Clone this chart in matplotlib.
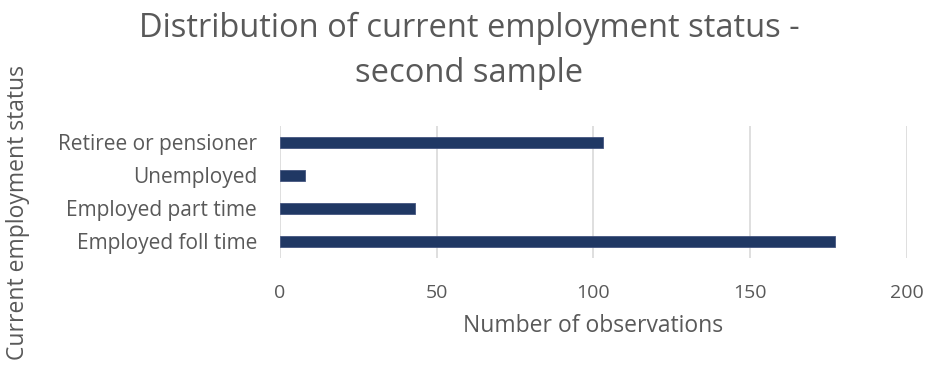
import matplotlib.pyplot as plt
import numpy as np

plt.rcParams['font.family'] = ['Open Sans', 'DejaVu Sans']

statuses = ["Employed foll time", "Employed part time", "Unemployed", "Retiree or pensioner"]
counts = [177, 43, 8, 103]
x_ticks = [0, 50, 100, 150, 200]

text_color = "#595959"
bar_color = "#203864"

fig = plt.figure(figsize=(9.31, 3.67), dpi=100)
ax = fig.add_axes([0.3008, 0.297, 0.6732, 0.36])

y = np.arange(len(statuses))
ax.barh(y, counts, height=0.33, color=bar_color, edgecolor="#44557f", linewidth=0.6, zorder=3)

ax.set_xlim(0, 200)
ax.set_ylim(-0.5, len(statuses) - 0.5)
ax.set_xticks(x_ticks)
ax.set_yticks(y)
ax.set_yticklabels(statuses)
ax.grid(axis="x", color="#d9d9d9", linewidth=1.2, zorder=0)
for s in ax.spines.values():
    s.set_visible(False)
ax.tick_params(axis="x", length=0, labelsize=14, labelcolor=text_color, pad=18.5)
ax.tick_params(axis="y", length=0, labelsize=15, labelcolor=text_color, pad=16.5)

ax.set_xlabel("Number of observations", fontsize=16.5, color=text_color, labelpad=9)
fig.text(0.019, 0.421, "Current employment status", rotation=90, ha="center", va="center",
         fontsize=16.5, color=text_color)

# two-line title, each line placed on its own baseline
fig.text(0.504, 1 - 37 / 367, "Distribution of current employment status -",
         ha="center", va="baseline", fontsize=23.5, color=text_color)
fig.text(0.504, 1 - 82 / 367, "second sample",
         ha="center", va="baseline", fontsize=23.5, color=text_color)

fig.savefig("out.png", dpi=100)
